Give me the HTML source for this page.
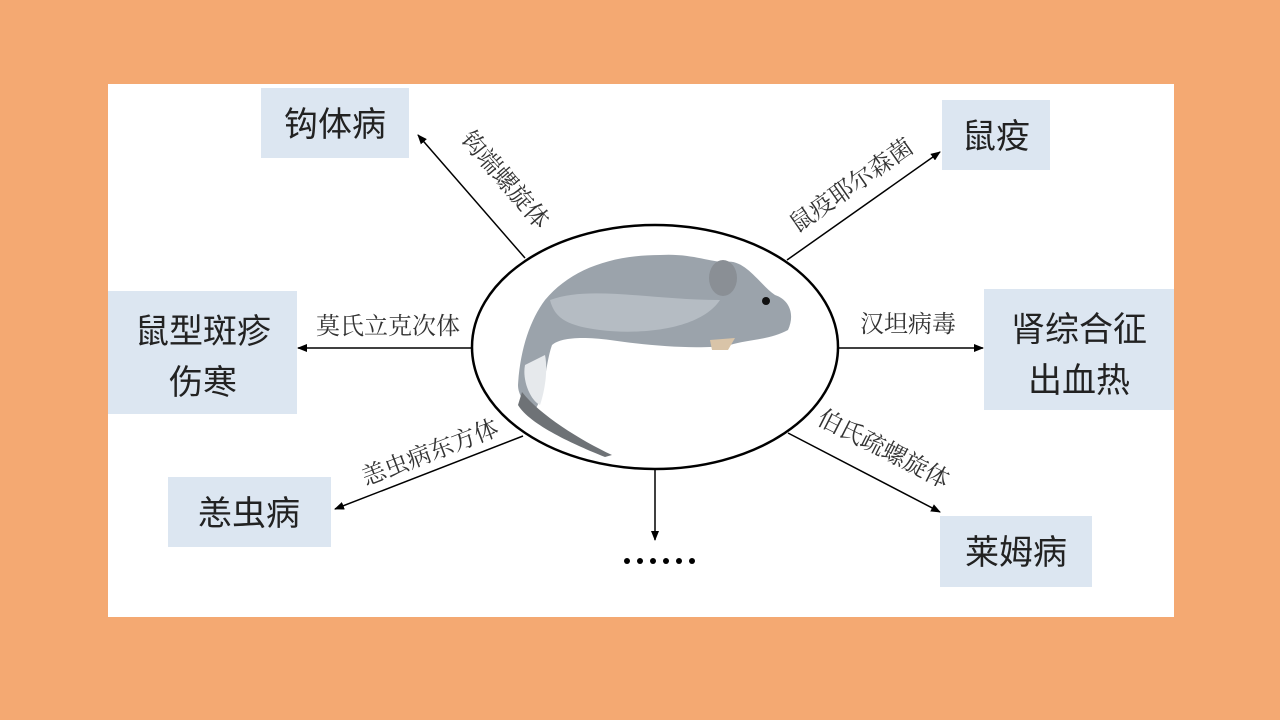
<!DOCTYPE html>
<html><head><meta charset="utf-8"><style>
body{margin:0;width:1280px;height:720px;background:#F4A972;overflow:hidden;font-family:"Liberation Sans","Noto Sans CJK SC",sans-serif}
</style></head><body>
<svg width="1280" height="720" viewBox="0 0 1280 720" xmlns="http://www.w3.org/2000/svg" style="position:absolute;left:0;top:0">
<defs><marker id="a" markerWidth="10" markerHeight="8" refX="9" refY="4" orient="auto" markerUnits="userSpaceOnUse"><path d="M0,0 L10,4 L0,8 z" fill="#000"/></marker></defs>
<rect x="108" y="84" width="1066" height="533" fill="#fff"/>
<g fill="#DCE6F1">
<rect x="261" y="88" width="148" height="70"/>
<rect x="942" y="100" width="108" height="70"/>
<rect x="108" y="291" width="189" height="123"/>
<rect x="984" y="289" width="190" height="121"/>
<rect x="168" y="477" width="163" height="70"/>
<rect x="940" y="516" width="152" height="71"/>
</g>
<g font-family="Liberation Sans,Noto Sans CJK SC,sans-serif" font-size="34" fill="#222" text-anchor="middle">
<text x="335" y="136">钩体病</text>
<text x="996" y="148">鼠疫</text>
<text x="203" y="343">鼠型斑疹</text>
<text x="203" y="394">伤寒</text>
<text x="1079" y="341">肾综合征</text>
<text x="1079" y="392">出血热</text>
<text x="249" y="525">恙虫病</text>
<text x="1016" y="564">莱姆病</text>
</g>
<ellipse cx="655" cy="347" rx="183" ry="122" fill="none" stroke="#000" stroke-width="2.5"/>
<g stroke="#000" stroke-width="1.5" marker-end="url(#a)">
<line x1="525" y1="258" x2="418" y2="135"/>
<line x1="787" y1="260" x2="940" y2="152"/>
<line x1="472" y1="348" x2="298" y2="348"/>
<line x1="838" y1="348" x2="983" y2="348"/>
<line x1="523" y1="436" x2="335" y2="509"/>
<line x1="788" y1="433" x2="940" y2="512"/>
<line x1="655" y1="470" x2="655" y2="540"/>
</g>
<g font-family="Liberation Serif,Noto Serif CJK SC,serif" font-size="24" fill="#333" text-anchor="middle">
<text transform="translate(499,185) rotate(49)">钩端螺旋体</text>
<text transform="translate(856,192) rotate(-35)">鼠疫耶尔森菌</text>
<text x="388" y="334">莫氏立克次体</text>
<text x="908" y="332">汉坦病毒</text>
<text transform="translate(433,460) rotate(-21)">恙虫病东方体</text>
<text transform="translate(880,456) rotate(27)">伯氏疏螺旋体</text>
</g>
<g fill="#000">
<circle cx="627" cy="561" r="3"/><circle cx="640" cy="561" r="3"/><circle cx="653" cy="561" r="3"/>
<circle cx="666" cy="561" r="3"/><circle cx="679" cy="561" r="3"/><circle cx="692" cy="561" r="3"/>
</g>
<!-- mouse -->
<path d="M518,385 C520,350 530,320 545,300 C570,270 610,255 660,255 C690,253 710,262 725,262 C745,258 760,285 775,295 C790,300 795,315 788,330 C770,340 745,340 730,345 C700,350 650,346 610,340 C580,336 560,338 552,345 C545,365 545,395 535,410 C525,405 518,395 518,385 Z" fill="#9BA3AB"/>
<path d="M550,300 C590,285 650,300 720,300 C700,330 640,335 600,330 C570,326 555,320 550,300Z" fill="#B5BCC3"/>
<path d="M525,365 C522,380 530,400 540,405 C545,390 548,370 545,355Z" fill="#E6E9EC"/>
<ellipse cx="723" cy="278" rx="14" ry="18" fill="#8A8F95"/>
<circle cx="766" cy="301" r="4" fill="#111"/>
<path d="M522,392 C540,415 580,440 612,455 L605,457 C575,445 530,425 518,405 Z" fill="#6E7276"/>
<path d="M710,340 L735,338 L728,350 L712,350Z" fill="#D9C4A8"/>
</svg>
</body></html>
